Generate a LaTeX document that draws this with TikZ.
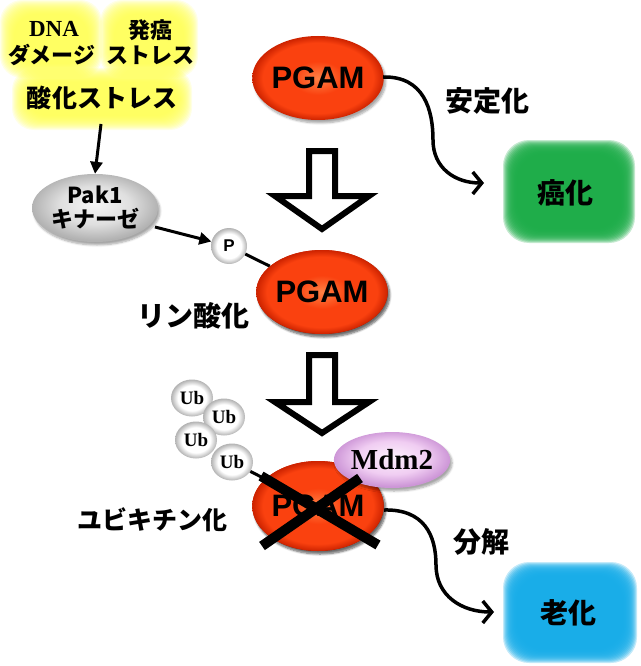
\documentclass[tikz,border=0pt]{standalone}
\usepackage{fontspec}
\setmainfont{Liberation Sans}
\newfontfamily\jp{Noto Sans CJK JP}
\newfontfamily\tms{Liberation Serif}
\usetikzlibrary{shapes.geometric,arrows.meta,shadows.blur}
\definecolor{pgin}{RGB}{255,130,70}
\definecolor{pgmid}{RGB}{250,65,15}
\definecolor{pgout}{RGB}{205,35,0}
\definecolor{yel}{RGB}{255,255,80}
\definecolor{grn}{RGB}{28,172,72}
\definecolor{blu}{RGB}{22,172,232}
\definecolor{mdin}{RGB}{252,240,252}
\definecolor{mdmid}{RGB}{240,205,242}
\definecolor{mdout}{RGB}{205,150,215}
\pgfdeclareradialshading{pgsh}{\pgfpoint{0bp}{0bp}}{color(0bp)=(pgin); color(10bp)=(pgmid); color(21bp)=(pgmid); color(25bp)=(pgout); color(50bp)=(pgout)}
\pgfdeclareradialshading{ubsh}{\pgfpoint{0bp}{0bp}}{color(0bp)=(white); color(17bp)=(white); color(25bp)=(gray!60); color(50bp)=(gray!60)}
\pgfdeclareradialshading{paksh}{\pgfpoint{0bp}{3bp}}{color(0bp)=(gray!8); color(14bp)=(gray!25); color(25bp)=(gray!60); color(50bp)=(gray!60)}
\pgfdeclareradialshading{mdsh}{\pgfpoint{0bp}{3bp}}{color(0bp)=(mdin); color(15bp)=(mdmid); color(25bp)=(mdout); color(50bp)=(mdout)}
\begin{document}
\begin{tikzpicture}[x=1pt,y=-1pt,
  shad/.style={blur shadow={shadow xshift=2pt,shadow yshift=-3pt,shadow opacity=35,shadow blur steps=6}},
  pgam/.style={ellipse,minimum width=128pt,minimum height=84pt,inner sep=0pt,
    shading=pgsh,shad,
    font=\fontsize{31}{33}\selectfont\bfseries},
  ubst/.style={ellipse,minimum width=42pt,minimum height=37pt,inner sep=0pt,
    shading=ubsh,
    font=\tms\fontsize{19}{21}\selectfont\bfseries},
  jt/.style={font=\jp\fontsize{25}{27}\selectfont\bfseries},
  jl/.style={font=\jp\fontsize{28}{30}\selectfont\bfseries},
  jsm/.style={font=\jp\fontsize{22}{24}\selectfont\bfseries,align=center},
  thin/.style={line width=3pt},
  curv/.style={line width=3.5pt,-{Straight Barb[length=9pt,width=22pt]}},
  hollow/.style={line width=6pt,draw=black,fill=white,line join=miter},
]
\useasboundingbox (0,0) rectangle (640,666);

% yellow glow
\foreach \i in {0,1,...,14}{
  \fill[yel,opacity=0.14,rounded corners=22pt] (0+\i,0+\i) rectangle (102-\i,78-\i);
  \fill[yel,opacity=0.14,rounded corners=22pt] (100+\i,0+\i) rectangle (198-\i,78-\i);
  \fill[yel,opacity=0.14,rounded corners=22pt] (12+\i,68+\i) rectangle (192-\i,130-\i);
}
\node[font=\tms\fontsize{23}{25}\selectfont\bfseries] (dna) at (54,29) {DNA};
\node[jsm] (dam) at (52,55) {ダメージ};
\node[jsm] (hatsu) at (150,30) {発癌};
\node[jsm] (str) at (150,55) {ストレス};
\node[jt] (sanka) at (102,98) {酸化ストレス};

% Pak1
\node[ellipse,minimum width=126pt,minimum height=68pt,inner sep=0pt,
  shading=paksh,shad,align=center,
  font=\jp\fontsize{22}{24}\selectfont\bfseries] (pak) at (95,208) {Pak1\\キナーゼ};
\coordinate (sankab) at (101,124);
\draw[thin,-{Triangle[length=12pt,width=12pt]}] (sankab) -- (pak.north);

% PGAM nodes
\node[pgam] (pg1) at (318,78) {PGAM};

% P circle
\node[circle,minimum size=36pt,inner sep=0pt,shading=ubsh,
  font=\fontsize{17}{19}\selectfont\bfseries] (p) at (229,246) {P};
\node[pgam] (pg2) at (322,292) {PGAM};
\draw[thin] (p) -- (pg2);
\node[pgam] at (322,292) {PGAM};
\coordinate (pakr) at (155,227);
\draw[thin,-{Triangle[length=12pt,width=12pt]}] (pakr) -- (p);

% hollow arrows
\draw[hollow] (309,151) -- (335,151) -- (335,196) -- (369,196) -- (322,229) -- (275,196) -- (309,196) -- cycle;
\draw[hollow] (309,355) -- (335,355) -- (335,402) -- (369,402) -- (322,433) -- (275,402) -- (309,402) -- cycle;

% green and blue boxes
\foreach \i in {0,1,...,14}{
  \fill[grn,opacity=0.26,rounded corners=26pt] (503+\i,140+\i) rectangle (635-\i,243-\i);
  \fill[blu,opacity=0.26,rounded corners=26pt] (503+\i,562+\i) rectangle (637-\i,663-\i);
}
\node[jl] (gan) at (565,193) {癌化};
\node[jl] (rou) at (568,613) {老化};

% stabilisation curve
\coordinate (c1) at (383,77);
\coordinate (c1e) at (484,183);
\draw[curv] (c1) .. controls (424,76) and (433,110) .. (433,140) .. controls (433,168) and (455,183) .. (c1e);
\node[jl] (antei) at (487,101) {安定化};

% リン酸化
\node[jl] (rin) at (193,316) {リン酸化};

% bottom PGAM
\node[ubst] (ub1) at (192,398) {Ub};
\node[ubst] (ub2) at (224,417) {Ub};
\node[ubst] (ub3) at (196,440) {Ub};
\node[ubst] (ub4) at (232,462) {Ub};
\node[pgam,minimum height=90pt] (pg3) at (318,506) {PGAM};
\draw[thin] (ub4) -- (pg3);
\node[pgam,minimum height=90pt] at (318,506) {PGAM};
\node[ellipse,minimum width=116pt,minimum height=56pt,inner sep=0pt,
  shading=mdsh,shad,
  font=\tms\fontsize{29}{31}\selectfont\bfseries] (mdm) at (392,460) {Mdm2};
\coordinate (x1) at (261,476);
\coordinate (x2) at (378,545);
\coordinate (x3) at (360,478);
\coordinate (x4) at (262,546);
\draw[line width=10pt] (x1) -- (x2);
\draw[line width=10pt] (x3) -- (x4);
\node[jt] (ubi) at (152,520) {ユビキチン化};

% degradation curve
\coordinate (c2) at (384,510);
\coordinate (c2e) at (494,612);
\draw[curv] (c2) .. controls (424,509) and (436,535) .. (436,565) .. controls (436,596) and (462,612) .. (c2e);
\node[jl] (bunkai) at (481,542) {分解};
\end{tikzpicture}
\end{document}
